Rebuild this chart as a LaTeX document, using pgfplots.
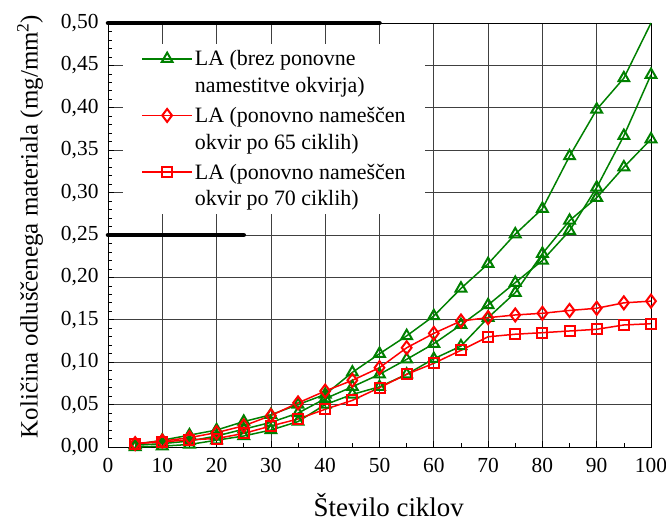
\documentclass[border=0pt]{standalone}
\usepackage{fontspec}
\setmainfont{Liberation Serif}
\usepackage{pgfplots}
\pgfplotsset{compat=1.18}
\definecolor{dgreen}{RGB}{0,128,0}
\definecolor{lred}{RGB}{255,0,0}
\begin{document}
\begin{tikzpicture}
\begin{axis}[
  scale only axis, width=543bp, height=424bp,
  xmin=0, xmax=100, ymin=0, ymax=0.5,
  xtick={0,10,20,30,40,50,60,70,80,90,100},
  ytick={0,0.05,0.10,0.15,0.20,0.25,0.30,0.35,0.40,0.45,0.50},
  minor x tick num=1, minor y tick num=4,
  grid=major, major grid style={black!75, line width=0.7bp},
  tick pos=left, tick align=inside,
  major tick length=6bp, minor tick length=4bp,
  every tick/.style={black, line width=0.7bp},
  axis line style={black, line width=0.8bp},
  /pgf/number format/assume math mode=true,
  tick label style={font=\fontsize{21.5}{24}\selectfont},
  yticklabel style={xshift=-6bp, /pgf/number format/.cd, fixed, fixed zerofill, precision=2, use comma},
  xticklabel style={yshift=-8bp, /pgf/number format/.cd, fixed, precision=0},
  xlabel={Število ciklov},
  ylabel={Količina odluščenega materiala (mg/mm\textsuperscript{2})},
  xlabel style={font=\fontsize{27}{30}\selectfont, at={(axis description cs:0.517,-0.137)}, anchor=center},
  ylabel style={font=\fontsize{25}{28}\selectfont, at={(axis description cs:-0.1436,0.52)}, anchor=center},
  clip=false,
  legend style={at={(axis cs:2.8,0.476)}, anchor=north west, draw=none, fill=white,
    font=\fontsize{22}{27}\selectfont, cells={align=left}, row sep=9bp, inner xsep=18bp, inner ysep=5bp},
  legend cell align=left,
  legend image code/.code={\draw[mark=none] (0bp,13.5bp)--(50bp,13.5bp); \draw plot coordinates {(25bp,13.5bp)};},
]
% thick black bars
\addplot[black, line width=4.5bp, line cap=round, forget plot] coordinates {(0,0.5)(50,0.5)};
\addplot[black, line width=4.5bp, line cap=round, forget plot] coordinates {(0,0.25)(25,0.25)};
% G2, G3
\addplot[dgreen, line width=1.5bp, mark=triangle, mark size=6.2bp, mark options={line width=2bp, fill=white}, forget plot] coordinates {
(5,0.002)(10,0.004)(15,0.007)(20,0.013)(25,0.021)(30,0.029)(35,0.040)(40,0.057)(45,0.071)(50,0.0857)
(55,0.1034)(60,0.1218)(65,0.144)(70,0.1675)(75,0.1938)(80,0.220)(85,0.255)(90,0.306)(95,0.367)(100,0.439)};
\addplot[dgreen, line width=1.5bp, mark=triangle, mark size=6.2bp, mark options={line width=2bp, fill=white}, forget plot] coordinates {
(5,0.000)(10,0.001)(15,0.003)(20,0.008)(25,0.013)(30,0.020)(35,0.030)(40,0.050)(45,0.062)(50,0.071)
(55,0.0857)(60,0.104)(65,0.119)(70,0.1525)(75,0.182)(80,0.228)(85,0.267)(90,0.294)(95,0.330)(100,0.363)};
% G1
\addplot[dgreen, line width=1.5bp, mark=triangle, mark size=6.2bp, mark options={line width=2bp, fill=white}, mark indices={1,...,19}] coordinates {
(5,0.003)(10,0.008)(15,0.014)(20,0.020)(25,0.030)(30,0.038)(35,0.050)(40,0.062)(45,0.088)(50,0.110)
(55,0.131)(60,0.1545)(65,0.187)(70,0.216)(75,0.251)(80,0.281)(85,0.343)(90,0.398)(95,0.435)(100,0.500)};
\addlegendentry{LA (brez ponovne\\namestitve okvirja)}
% D
\addplot[lred, line width=1.5bp, mark=diamond, mark size=6.5bp, mark options={line width=2bp, fill=white}] coordinates {
(5,0.004)(10,0.007)(15,0.011)(20,0.017)(25,0.025)(30,0.037)(35,0.052)(40,0.066)(45,0.0786)(50,0.0935)
(55,0.117)(60,0.134)(65,0.1486)(70,0.1525)(75,0.1557)(80,0.1577)(85,0.161)(90,0.1636)(95,0.170)(100,0.172)};
\addlegendentry{LA (ponovno nameščen\\okvir po 65 ciklih)}
% S
\addplot[lred, line width=1.5bp, mark=square, mark size=5bp, mark options={line width=2bp, fill=white}] coordinates {
(5,0.004)(10,0.006)(15,0.0085)(20,0.010)(25,0.016)(30,0.0248)(35,0.033)(40,0.0445)(45,0.055)(50,0.070)
(55,0.0857)(60,0.0987)(65,0.114)(70,0.130)(75,0.133)(80,0.1348)(85,0.1368)(90,0.1388)(95,0.1439)(100,0.1454)};
\addlegendentry{LA (ponovno nameščen\\okvir po 70 ciklih)}
\end{axis}
\pgfresetboundingbox
\path[use as bounding box] (current axis.south west) ++(-108bp,-76bp) rectangle ++(666bp,523bp);
\end{tikzpicture}
\end{document}
